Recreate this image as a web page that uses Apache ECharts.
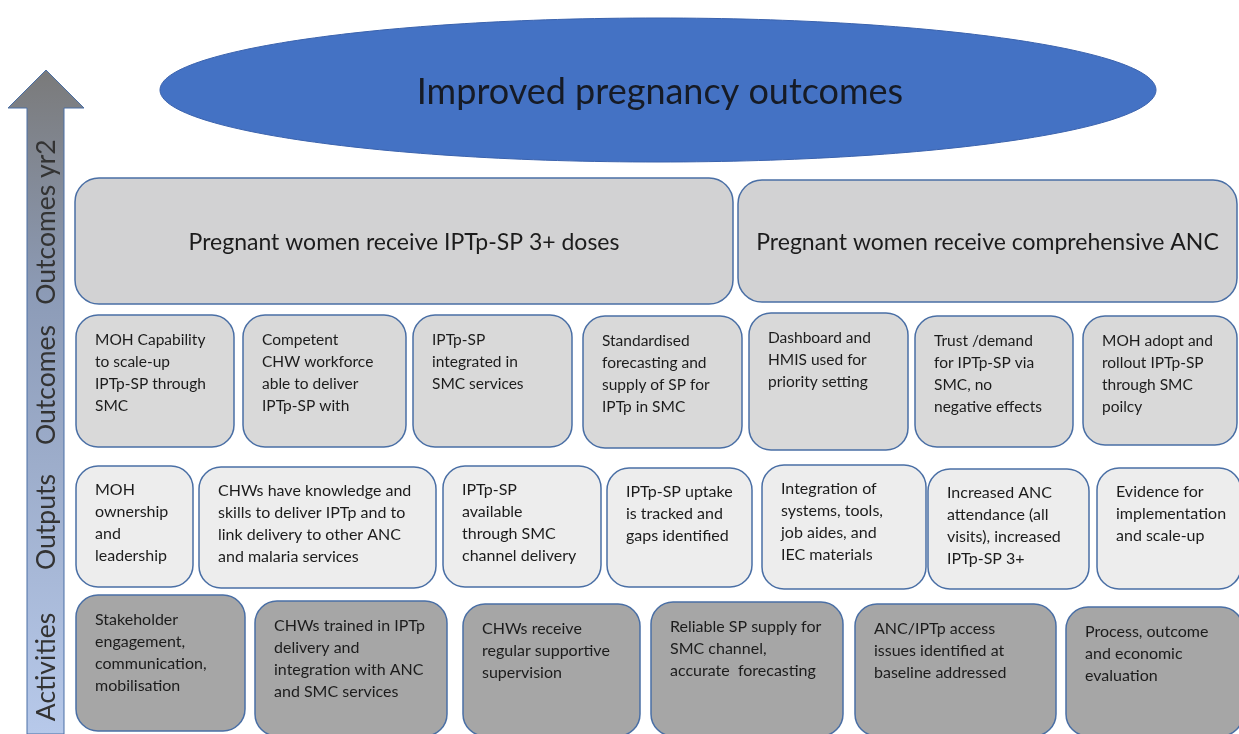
<!DOCTYPE html>
<html>
<head>
<meta charset="utf-8">
<script src="https://cdn.jsdelivr.net/npm/echarts@6/dist/echarts.min.js"></script>
<style>
  html, body { margin: 0; padding: 0; background: #fff; }
  #chart { width: 1239px; height: 734px; }
</style>
</head>
<body>
<div id="chart"></div>
<script>
// level names along the arrow, bottom to top
const levelNames = ['Activities', 'Outputs', 'Outcomes', 'Outcomes yr2']
const goalText = 'Improved pregnancy outcomes'

const yr2Outcomes = [
  'Pregnant women receive IPTp-SP 3+ doses',
  'Pregnant women receive comprehensive ANC'
]
const outcomes = [
  'MOH Capability\nto scale-up\nIPTp-SP through\nSMC',
  'Competent\nCHW workforce\nable to deliver\nIPTp-SP with',
  'IPTp-SP\nintegrated in\nSMC services',
  'Standardised\nforecasting and\nsupply of SP for\nIPTp in SMC',
  'Dashboard and\nHMIS used for\npriority setting',
  'Trust /demand\nfor IPTp-SP via\nSMC, no\nnegative effects',
  'MOH adopt and\nrollout IPTp-SP\nthrough SMC\npoilcy'
]
const outputs = [
  'MOH\nownership\nand\nleadership',
  'CHWs have knowledge and\nskills to deliver IPTp and to\nlink delivery to other ANC\nand malaria services',
  'IPTp-SP\navailable\nthrough SMC\nchannel delivery',
  'IPTp-SP uptake\nis tracked and\ngaps identified',
  'Integration of\nsystems, tools,\njob aides, and\nIEC materials',
  'Increased ANC\nattendance (all\nvisits), increased\nIPTp-SP 3+',
  'Evidence for\nimplementation\nand scale-up'
]
const activities = [
  'Stakeholder\nengagement,\ncommunication,\nmobilisation',
  'CHWs trained in IPTp\ndelivery and\nintegration with ANC\nand SMC services',
  'CHWs receive\nregular supportive\nsupervision',
  'Reliable SP supply for\nSMC channel,\naccurate  forecasting',
  'ANC/IPTp access\nissues identified at\nbaseline addressed',
  'Process, outcome\nand economic\nevaluation'
]

// layout (diagram units = pixels): [x0, y0, x1, y1]
const yr2Boxes = [[75, 178, 733, 304], [738, 180, 1237, 302]]
const outcomeBoxes = [
  [76, 315, 234, 447], [243, 315, 406, 447], [413, 315, 572, 447], [583, 316, 742, 448],
  [749, 313, 908, 450], [915, 316, 1073, 447], [1083, 316, 1237, 445]
]
const outputBoxes = [
  [76, 466, 193, 587], [199, 467, 436, 588], [443, 466, 601, 587], [607, 468, 752, 587],
  [762, 465, 926, 589], [928, 469, 1089, 589], [1097, 468, 1241, 589]
]
const activityBoxes = [
  [76, 595, 245, 731], [255, 601, 447, 736], [463, 604, 640, 736],
  [651, 602, 843, 736], [855, 604, 1056, 736], [1066, 607, 1243, 736]
]
const levelLabelY = [667, 522, 385, 222]
const goalEllipse = [658, 90, 498, 72]
const arrowShape = [[27, 734], [27, 108], [8, 108], [46, 70], [84, 108], [64, 108], [64, 734]]

const FONT = 'Lato, "Open Sans", sans-serif'
const BORDER = '#4a6fa5'

function boxSeries(name, boxes, texts, fill, fontSize, lineHeight, padTop, centered) {
  return {
    type: 'custom',
    name: name,
    coordinateSystem: 'cartesian2d',
    data: boxes,
    renderItem(params, api) {
      const p0 = api.coord([api.value(0), api.value(1)])
      const p1 = api.coord([api.value(2), api.value(3)])
      const w = p1[0] - p0[0]
      const h = p1[1] - p0[1]
      const label = texts[params.dataIndex]
      return {
        type: 'group',
        children: [{
          type: 'rect',
          shape: { x: p0[0], y: p0[1], width: w, height: h, r: centered ? 24 : 22 },
          style: { fill: fill, stroke: BORDER, lineWidth: 1.5 }
        }, {
          type: 'text',
          x: centered ? p0[0] + w / 2 : p0[0] + 19,
          y: centered ? p0[1] + h / 2 + 2 : p0[1] + padTop,
          style: {
            text: label,
            fill: '#1c1c1c',
            fontSize: fontSize,
            fontFamily: FONT,
            lineHeight: lineHeight,
            align: centered ? 'center' : 'left',
            verticalAlign: centered ? 'middle' : 'top'
          }
        }]
      }
    }
  }
}

const chart = echarts.init(document.getElementById('chart'))
chart.setOption({
  animation: false,
  grid: { left: 0, right: 0, top: 0, bottom: 0 },
  xAxis: { type: 'value', min: 0, max: 1239, show: false },
  yAxis: { type: 'value', min: 0, max: 734, inverse: true, show: false },
  series: [
    {
      type: 'custom',
      name: 'arrow',
      data: [0],
      renderItem(params, api) {
        const pts = arrowShape.map(p => api.coord(p))
        const labels = levelNames.map((t, i) => {
          const c = api.coord([46, levelLabelY[i]])
          return {
            type: 'text',
            x: c[0],
            y: c[1],
            rotation: Math.PI / 2,
            style: {
              text: t,
              fill: '#333',
              fontSize: 26.5,
              fontFamily: FONT,
              align: 'center',
              verticalAlign: 'middle'
            }
          }
        })
        return {
          type: 'group',
          children: [{
            type: 'polygon',
            shape: { points: pts },
            style: {
              fill: new echarts.graphic.LinearGradient(0, 0, 0, 1, [
                { offset: 0, color: '#7a7a7a' },
                { offset: 0.35, color: '#8d9cb8' },
                { offset: 1, color: '#b7c9ea' }
              ]),
              stroke: '#4a6fa5',
              lineWidth: 1
            }
          }].concat(labels)
        }
      }
    },
    {
      type: 'custom',
      name: 'goal',
      data: [goalEllipse],
      renderItem(params, api) {
        const c = api.coord([api.value(0), api.value(1)])
        return {
          type: 'group',
          children: [{
            type: 'ellipse',
            shape: { cx: c[0], cy: c[1], rx: api.value(2), ry: api.value(3) },
            style: { fill: '#4472c4', stroke: '#3a62ad', lineWidth: 1 }
          }, {
            type: 'text',
            x: c[0] + 2,
            y: c[1] + 2,
            style: {
              text: goalText,
              fill: '#161b26',
              fontSize: 36,
              fontFamily: FONT,
              align: 'center',
              verticalAlign: 'middle'
            }
          }]
        }
      }
    },
    boxSeries('yr2', yr2Boxes, yr2Outcomes, '#d2d2d3', 23, 28, 0, true),
    boxSeries('outcomes', outcomeBoxes, outcomes, '#d9d9d9', 15.5, 22, 14, false),
    boxSeries('outputs', outputBoxes, outputs, '#ededed', 16, 22, 13, false),
    boxSeries('activities', activityBoxes, activities, '#a6a6a6', 16, 22, 14, false)
  ]
})
</script>
</body>
</html>
